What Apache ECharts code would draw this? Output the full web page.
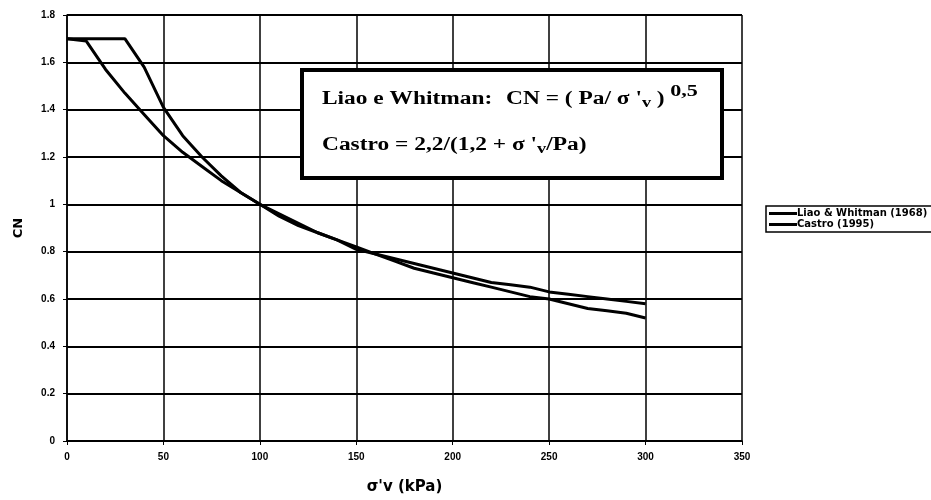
<!DOCTYPE html>
<html><head><meta charset="utf-8">
<script src="https://cdn.jsdelivr.net/npm/echarts@6/dist/echarts.min.js"></script>
<style>html,body{margin:0;padding:0;background:#fff}#c{width:931px;height:500px}</style>
</head><body><div id="c"></div>
<script>
// sigma'v (kPa)
const stress = [0,10,20,30,40,50,60,70,80,90,100,110,120,130,140,150,160,170,180,190,200,210,220,230,240,250,260,270,280,290,300];
// Liao & Whitman (1968)
const liaoWhitman = [1.70,1.70,1.70,1.70,1.58,1.41,1.29,1.20,1.12,1.05,1.00,0.95,0.91,0.88,0.85,0.82,0.79,0.77,0.75,0.73,0.71,0.69,0.67,0.66,0.65,0.63,0.62,0.61,0.60,0.59,0.58];
// Castro (1995)
const castro = [1.70,1.69,1.57,1.47,1.38,1.29,1.22,1.16,1.10,1.05,1.00,0.96,0.92,0.88,0.85,0.81,0.79,0.76,0.73,0.71,0.69,0.67,0.65,0.63,0.61,0.60,0.58,0.56,0.55,0.54,0.52];
const seriesNames = ['Liao & Whitman (1968)', 'Castro (1995)'];
const xTicks = [0,50,100,150,200,250,300,350];
const yTicks = [0,0.2,0.4,0.6,0.8,1,1.2,1.4,1.6,1.8];

const chart = echarts.init(document.getElementById('c'), null, {renderer: 'canvas'});
const lbl = {color: '#000', fontFamily: 'Liberation Sans', fontWeight: 'bold', fontSize: 10};
const richStyles = {
  n: {fontFamily: 'Liberation Serif', fontWeight: 'bold', fontSize: 18, color: '#000'},
  sub: {fontFamily: 'Liberation Serif', fontWeight: 'bold', fontSize: 14, color: '#000', padding: [9, 0, 0, 0]},
  sup: {fontFamily: 'Liberation Serif', fontWeight: 'bold', fontSize: 17, color: '#000', padding: [0, 0, 15, 0]}
};
const sx = 1.3;
chart.setOption({
  animation: false,
  backgroundColor: '#fff',
  grid: {left: 67, right: 189, top: 15, bottom: 56, containLabel: false},
  legend: {
    orient: 'vertical', left: 766, top: 206,
    data: seriesNames,
    icon: 'rect', itemWidth: 28, itemHeight: 3, itemGap: 0,
    padding: [2, 6, 2, 3],
    borderColor: '#000', borderWidth: 1.5, borderRadius: 0,
    textStyle: {color: '#000', fontFamily: 'DejaVu Sans', fontWeight: 'bold', fontSize: 10, lineHeight: 11, padding: [0, 0, 0, -5]}
  },
  xAxis: {
    type: 'value', min: xTicks[0], max: xTicks[xTicks.length - 1], interval: xTicks[1] - xTicks[0],
    name: "σ'v (kPa)", nameLocation: 'middle', nameGap: 39,
    nameTextStyle: {color: '#000', fontFamily: 'DejaVu Sans', fontWeight: 'bold', fontSize: 15},
    axisLine: {lineStyle: {color: '#000', width: 1.5}},
    axisTick: {show: true, length: 4, lineStyle: {color: '#000'}},
    axisLabel: Object.assign({margin: 11}, lbl),
    splitLine: {show: true, lineStyle: {color: '#000', width: 1.5}}
  },
  yAxis: {
    type: 'value', min: yTicks[0], max: yTicks[yTicks.length - 1], interval: 0.2,
    name: 'CN', nameLocation: 'middle', nameGap: 42, nameRotate: 90,
    nameTextStyle: {color: '#000', fontFamily: 'DejaVu Sans', fontWeight: 'bold', fontSize: 13},
    axisLine: {show: true, lineStyle: {color: '#000', width: 1.5}},
    axisTick: {show: true, length: 4, lineStyle: {color: '#000'}},
    axisLabel: Object.assign({margin: 12}, lbl),
    splitLine: {show: true, lineStyle: {color: '#000', width: 2}}
  },
  series: [
    {name: seriesNames[0], type: 'line', symbol: 'none', color: '#000',
     lineStyle: {color: '#000', width: 3}, data: stress.map((x, i) => [x, liaoWhitman[i]])},
    {name: seriesNames[1], type: 'line', symbol: 'none', color: '#000',
     lineStyle: {color: '#000', width: 3}, data: stress.map((x, i) => [x, castro[i]])}
  ],
  graphic: [
    {type: 'rect', z: 50, shape: {x: 302, y: 70, width: 420, height: 108},
     style: {fill: '#fff', stroke: '#000', lineWidth: 4}},
    {type: 'text', z: 51, x: 322, y: 99, scaleX: sx,
     style: {text: '{n|Liao e Whitman:}', rich: richStyles, verticalAlign: 'middle', fill: '#000'}},
    {type: 'text', z: 51, x: 506, y: 99, scaleX: sx,
     style: {text: "{n|CN = ( Pa/ σ '}{sub|v}{n| )}{sup| 0,5}", rich: richStyles, verticalAlign: 'middle', fill: '#000'}},
    {type: 'text', z: 51, x: 322, y: 145, scaleX: sx,
     style: {text: "{n|Castro = 2,2/(1,2 + σ '}{sub|v}{n|/Pa)}", rich: richStyles, verticalAlign: 'middle', fill: '#000'}}
  ]
});
</script></body></html>
